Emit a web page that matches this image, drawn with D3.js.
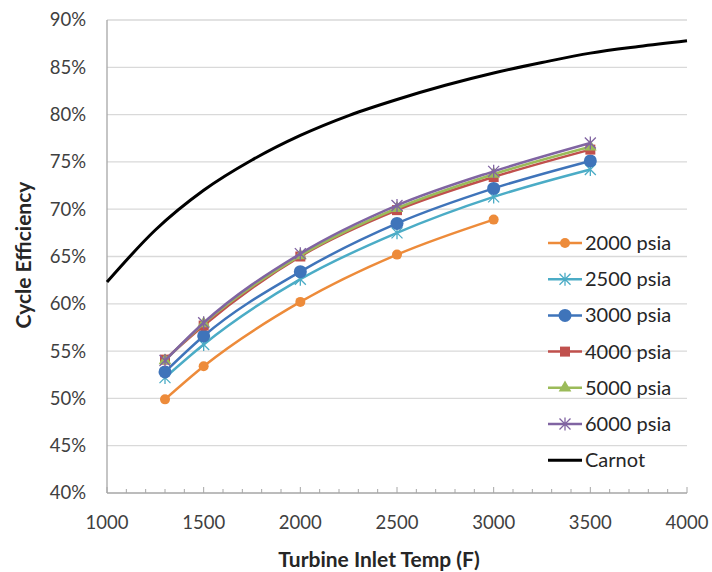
<!DOCTYPE html>
<html><head><meta charset="utf-8">
<script src="https://cdn.jsdelivr.net/npm/d3@7"></script>
<style>
body{margin:0;background:#fff;}
svg{display:block;font-family:Lato,"Open Sans",sans-serif;}
</style></head>
<body><svg id="c" width="712" height="572"></svg>
<script>
const temps = [1300,1500,2000,2500,3000,3500];
const seriesNames = ["2000 psia","2500 psia","3000 psia","4000 psia","5000 psia","6000 psia"];
const eff2000 = [49.9,53.4,60.2,65.2,68.9];
const eff2500 = [52.2,55.7,62.6,67.5,71.3,74.2];
const eff3000 = [52.8,56.6,63.4,68.5,72.2,75.1];
const eff4000 = [54.1,57.7,65.0,69.9,73.4,76.3];
const eff5000 = [54.0,57.9,65.1,70.1,73.7,76.6];
const eff6000 = [54.0,58.0,65.3,70.4,74.0,77.0];
const carnotTemps = [1000,1250,1500,1750,2000,2250,2500,2750,3000,3250,3500,3750,4000];
const carnotEff = [62.3,67.8,72.0,75.2,77.8,79.9,81.6,83.1,84.4,85.5,86.5,87.2,87.8];
const xTicks = [1000,1500,2000,2500,3000,3500,4000];
const yTicks = [40,45,50,55,60,65,70,75,80,85,90];

const colors = ["#ED8B3A","#4BACC6","#3F74BA","#C0504D","#9BBB59","#8064A2"];
const markers = ["circle","asterisk","bigcircle","square","triangle","xmark"];
const allEff = [eff2000,eff2500,eff3000,eff4000,eff5000,eff6000];

const svg = d3.select("#c");
const L=107,R=687,T=20,B=493;
const x = d3.scaleLinear().domain([1000,4000]).range([L,R]);
const y = d3.scaleLinear().domain([40,90]).range([B,T]);

// gridlines
svg.append("g").selectAll("line").data(yTicks.filter(v=>v>40)).join("line")
  .attr("x1",L).attr("x2",R).attr("y1",d=>y(d)).attr("y2",d=>y(d))
  .attr("stroke","#d9d9d9").attr("stroke-width",1.3);

// axes lines
svg.append("line").attr("x1",L).attr("x2",L).attr("y1",T).attr("y2",B).attr("stroke","#a6a6a6").attr("stroke-width",1.3);
svg.append("line").attr("x1",L).attr("x2",R).attr("y1",B).attr("y2",B).attr("stroke","#a6a6a6").attr("stroke-width",1.3);
// x minor/major ticks (inward)
const minor = d3.range(1000,4001,100);
svg.append("g").selectAll("line").data(minor).join("line")
  .attr("x1",d=>x(d)).attr("x2",d=>x(d)).attr("y1",B).attr("y2",d=>d%500===0?B-6:B-4)
  .attr("stroke","#a6a6a6").attr("stroke-width",1);

// tick labels
svg.append("g").selectAll("text").data(yTicks).join("text")
  .attr("x",86).attr("y",d=>y(d)).attr("dy","0.35em").attr("text-anchor","end")
  .attr("font-size",18.5).attr("fill","#404040").text(d=>d+"%");
svg.append("g").selectAll("text").data(xTicks).join("text")
  .attr("x",d=>x(d)).attr("y",529).attr("text-anchor","middle")
  .attr("font-size",18.5).attr("fill","#404040").text(d=>d);

// titles
svg.append("text").attr("x",379).attr("y",567).attr("text-anchor","middle")
  .attr("font-size",21).attr("font-weight","bold").attr("fill","#262626").text("Turbine Inlet Temp (F)");
svg.append("text").attr("transform","translate(31,255) rotate(-90)").attr("text-anchor","middle")
  .attr("font-size",21).attr("font-weight","bold").attr("fill","#262626").text("Cycle Efficiency");

function drawMarker(g, type, color, cx, cy){
  if(type==="circle"){
    g.append("circle").attr("cx",cx).attr("cy",cy).attr("r",5).attr("fill",color);
  } else if(type==="bigcircle"){
    g.append("circle").attr("cx",cx).attr("cy",cy).attr("r",6.5).attr("fill",color);
  } else if(type==="square"){
    g.append("rect").attr("x",cx-5).attr("y",cy-5).attr("width",10).attr("height",10).attr("fill",color);
  } else if(type==="triangle"){
    g.append("path").attr("d",d3.symbol(d3.symbolTriangle,70)()).attr("transform",`translate(${cx},${cy})`).attr("fill",color);
  } else {
    const s=5.5;
    g.append("path").attr("d",`M${cx-s},${cy-s}L${cx+s},${cy+s}M${cx-s},${cy+s}L${cx+s},${cy-s}M${cx},${cy-s-1}L${cx},${cy+s+1}`)
      .attr("stroke",color).attr("stroke-width",1.3).attr("fill","none");
  }
}

const line = d3.line().x(d=>x(d[0])).y(d=>y(d[1])).curve(d3.curveMonotoneX);
allEff.forEach((vals,i)=>{
  const pts = vals.map((v,j)=>[temps[j],v]);
  const g = svg.append("g");
  g.append("path").attr("d",line(pts)).attr("fill","none").attr("stroke",colors[i]).attr("stroke-width",2.5);
  pts.forEach(p=>drawMarker(g,markers[i],colors[i],x(p[0]),y(p[1])));
});
// Carnot
svg.append("path").attr("d",line(carnotTemps.map((t,i)=>[t,carnotEff[i]])))
  .attr("fill","none").attr("stroke","#000").attr("stroke-width",3);

// legend
const legY0=243, legDy=36.2;
const legNames = seriesNames.concat(["Carnot"]);
legNames.forEach((n,i)=>{
  const g = svg.append("g");
  const ly = legY0+i*legDy;
  const col = i<6?colors[i]:"#000";
  g.append("line").attr("x1",548).attr("x2",582).attr("y1",ly).attr("y2",ly).attr("stroke",col).attr("stroke-width",i<6?2.5:3);
  if(i<6) drawMarker(g,markers[i],col,565,ly);
  g.append("text").attr("x",585).attr("y",ly).attr("dy","0.35em").attr("font-size",20).attr("fill","#262626").text(n);
});
</script></body></html>
